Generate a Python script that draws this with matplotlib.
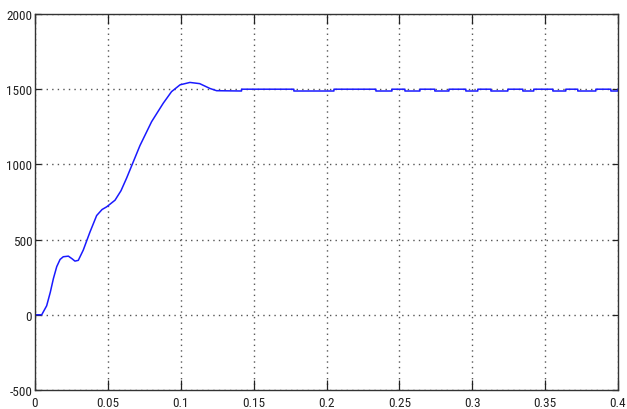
import matplotlib
matplotlib.use("Agg")
import matplotlib.pyplot as plt
from matplotlib import font_manager

# transitoire
t_montee = [0, 0.0046, 0.008, 0.0105, 0.0126, 0.0149, 0.0172, 0.0194, 0.0229, 0.0255,
            0.0274, 0.0297, 0.0331, 0.0377, 0.0423, 0.046, 0.0492, 0.0549, 0.0590, 0.0629,
            0.072, 0.080, 0.088, 0.0937, 0.0995, 0.1063, 0.113, 0.12, 0.1246]
v_montee = [0, 0, 60, 150, 240, 320, 368, 386, 390, 372,
            357, 362, 430, 550, 660, 700, 718, 762, 825, 910,
            1125, 1284, 1407, 1484, 1529, 1545, 1537, 1505, 1490]

# regime permanent : palier a 1500 avec petits creux
t_fin_premier_creux = 0.1417
creux_debut = [0.1776, 0.2339, 0.2538, 0.2743, 0.2956, 0.3128, 0.3347, 0.3553, 0.3724, 0.3951]
creux_fin = [0.2051, 0.2449, 0.2641, 0.2840, 0.3038, 0.3244, 0.3422, 0.3642, 0.3848, 0.4]
v_palier = 1500
v_creux = 1488

x_ticks = [0, 0.05, 0.1, 0.15, 0.2, 0.25, 0.3, 0.35, 0.4]
x_labels = ["0", "0.05", "0.1", "0.15", "0.2", "0.25", "0.3", "0.35", "0.4"]
y_ticks = [-500, 0, 500, 1000, 1500, 2000]
y_labels = ["-500", "0", "500", "1000", "1500", "2000"]

# police etroite si disponible
noms = {f.name for f in font_manager.fontManager.ttflist}
etroites = [n for n in ("Liberation Sans Narrow", "Roboto Condensed", "DejaVu Sans Condensed") if n in noms]
police = etroites[0] if etroites else "DejaVu Sans"
plt.rcParams["font.family"] = [police, "DejaVu Sans"]
plt.rcParams["font.stretch"] = "condensed"

t = list(t_montee) + [t_fin_premier_creux, t_fin_premier_creux]
v = list(v_montee) + [v_creux, v_palier]
for d, f in zip(creux_debut, creux_fin):
    t += [d, d, f, f]
    v += [v_palier, v_creux, v_creux, v_palier]

fig = plt.figure(figsize=(6.27, 4.10), dpi=100)
ax = fig.add_axes([35 / 627, 1 - 391 / 410, 583 / 627, 376 / 410])

ax.plot(t, v, color="#1a1aff", linewidth=1.1)

ax.set_xlim(0, 0.4)
ax.set_ylim(-500, 2000)
ax.set_xticks(x_ticks)
ax.set_xticklabels(x_labels)
ax.set_yticks(y_ticks)
ax.set_yticklabels(y_labels)
ax.grid(True, linestyle=(0, (1, 3)), color="#555555", linewidth=1)

ax.tick_params(axis="both", direction="in", top=True, right=True, labelsize=9.5,
               colors="#222222", width=0.9)
ax.tick_params(axis="x", length=7, pad=4)
ax.tick_params(axis="y", length=4, pad=2)
for s in ax.spines.values():
    s.set_color("#333333")
    s.set_linewidth(1)

fig.savefig("out.png", dpi=100)
